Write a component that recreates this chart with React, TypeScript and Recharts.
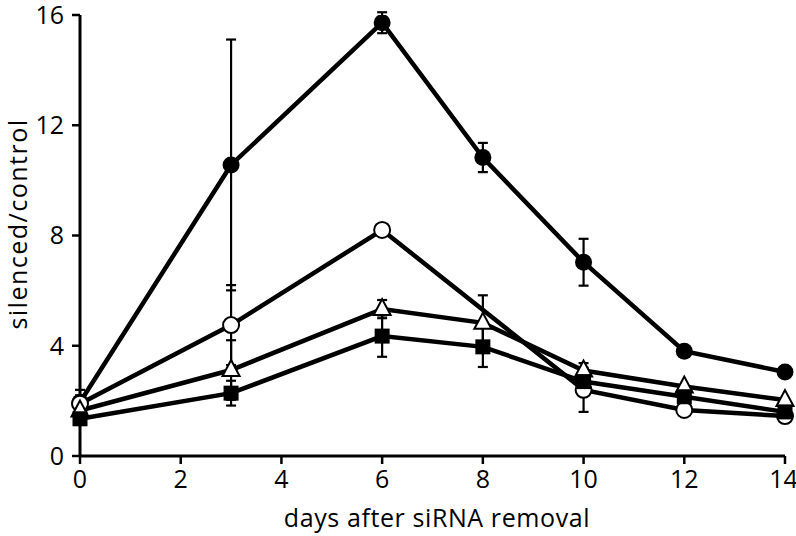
import React from 'react'
import { LineChart, Line, XAxis, YAxis, ErrorBar, Label } from 'recharts'

const days = [0, 3, 6, 8, 10, 12, 14]

// filled circles
const filledVals = [1.95, 10.56, 15.72, 10.83, 7.03, 3.8, 3.05]
const filledErr = [0.45, 4.55, 0.38, 0.53, 0.85, 0, 0]
// open circles (no point at day 8)
const openVals = [1.9, 4.75, 8.2, null, 2.4, 1.67, 1.45]
const openErr = [0.3, 1.45, 0.1, null, 0.8, 0, 0]
// open triangles
const triVals = [1.65, 3.12, 5.33, 4.83, 3.1, 2.52, 2.03]
const triErr = [0.2, 1.08, 0.33, 1.0, 0.27, 0, 0]
// filled squares
const sqVals = [1.35, 2.28, 4.35, 3.96, 2.7, 2.15, 1.6]
const sqErr = [0.1, 0.45, 0.75, 0.73, 0.2, 0, 0]

const xTicks = [0, 2, 4, 6, 8, 10, 12, 14]
const yTicks = [0, 4, 8, 12, 16]

const data = days.map((d, i) => ({
  day: d,
  filled: filledVals[i], filledErr: filledErr[i],
  open: openVals[i], openErr: openErr[i],
  tri: triVals[i], triErr: triErr[i],
  sq: sqVals[i], sqErr: sqErr[i],
}))

const FONT = '"Open Sans", sans-serif'

const makeDot = (kind: string) => (props: any) => {
  const { cx, cy, index, value } = props
  const key = `${kind}-${index}`
  if (cx == null || cy == null || value == null) return <g key={key} />
  if (kind === 'filled') return <circle key={key} cx={cx} cy={cy} r={8.5} fill="#000" />
  if (kind === 'open') return <circle key={key} cx={cx} cy={cy} r={8} fill="#fff" stroke="#000" strokeWidth={2} />
  if (kind === 'tri')
    return (
      <polygon
        key={key}
        points={`${cx},${cy - 10} ${cx - 8.5},${cy + 6} ${cx + 8.5},${cy + 6}`}
        fill="#fff"
        stroke="#000"
        strokeWidth={2}
      />
    )
  return <rect key={key} x={cx - 7.5} y={cy - 7.5} width={15} height={15} fill="#000" />
}

const series = [
  { key: 'filled', err: 'filledErr' },
  { key: 'open', err: 'openErr' },
  { key: 'tri', err: 'triErr' },
  { key: 'sq', err: 'sqErr' },
]

export default function App() {
  return (
    <div style={{ position: 'absolute', left: 0, top: 0, width: 796, height: 536, background: '#fff' }}>
      <LineChart width={796} height={536} data={data} margin={{ top: 15, right: 11, bottom: 0, left: 0 }}>
        <XAxis
          dataKey="day"
          type="number"
          domain={[0, 14]}
          ticks={xTicks}
          height={80}
          axisLine={{ stroke: '#000', strokeWidth: 3 }}
          tickLine={{ stroke: '#000', strokeWidth: 2.5 }}
          tickSize={8}
          tickMargin={6}
          tick={{ fill: '#000', fontSize: 25, fontFamily: FONT }}
        >
          <Label
            content={() => (
              <text x={437} y={527} textAnchor="middle" fill="#000" fontSize={25} letterSpacing={0.6} fontFamily={FONT}>
                days after siRNA removal
              </text>
            )}
          />
        </XAxis>
        <YAxis
          type="number"
          domain={[0, 16]}
          ticks={yTicks}
          width={80}
          allowDataOverflow
          axisLine={{ stroke: '#000', strokeWidth: 3 }}
          tickLine={{ stroke: '#000', strokeWidth: 2.5 }}
          tickSize={8}
          tickMargin={8}
          tick={{ fill: '#000', fontSize: 25, fontFamily: FONT }}
        >
          <Label
            content={() => (
              <text
                x={27}
                y={224}
                transform="rotate(-90 27 224)"
                textAnchor="middle"
                fill="#000"
                fontSize={25}
                letterSpacing={1.5}
                fontFamily={FONT}
              >
                silenced/control
              </text>
            )}
          />
        </YAxis>
        {series.map(s => (
          <Line
            key={s.key}
            dataKey={s.key}
            type="linear"
            stroke="#000"
            strokeWidth={4.5}
            connectNulls
            dot={makeDot(s.key)}
            activeDot={false}
            isAnimationActive={false}
          >
            <ErrorBar dataKey={s.err} direction="y" stroke="#000" strokeWidth={2.2} width={5} />
          </Line>
        ))}
      </LineChart>
    </div>
  )
}
